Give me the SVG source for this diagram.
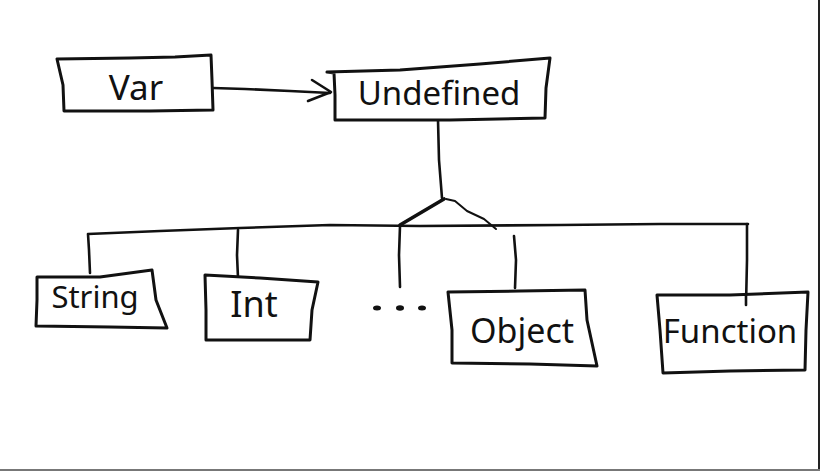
<svg xmlns="http://www.w3.org/2000/svg" width="820" height="471" viewBox="0 0 820 471">
<style>
.box{fill:#fff;stroke:#111;stroke-width:3;stroke-linejoin:round;stroke-linecap:round}
.ln{fill:none;stroke:#111;stroke-width:2.6;stroke-linejoin:round;stroke-linecap:round}
.lbl{font-family:"Noto Sans","DejaVu Sans",sans-serif;font-size:32px;fill:#111;text-anchor:middle}
</style>
<rect x="0" y="0" width="820" height="471" fill="#fff"/>
<line x1="819" y1="0" x2="819" y2="471" stroke="#222" stroke-width="2"/>
<line x1="0" y1="470" x2="820" y2="470" stroke="#777" stroke-width="2"/>
<g id="connectors">
<path class="ln" d="M213,88 L245,89 L290,91 L330,93"/>
<path class="ln" d="M312,80 L331,92 L308,101"/>
<path class="ln" d="M438,120 L439,160 L442,198"/>
<path class="ln" d="M444,199 L400,225" style="stroke-width:3.6"/>
<path class="ln" d="M446,199 L455,201 L467,211 L484,219 L496,229" style="stroke-width:2"/>
<path class="ln" d="M90,273 L89,250 L88,234 L160,231 L240,228 L330,225 L420,226 L560,225 L660,224 L748,224"/>
<path class="ln" d="M238,278 L237,255 L238,230"/>
<path class="ln" d="M400,287 L399,255 L400,226"/>
<path class="ln" d="M515,288 L516,260 L514,236"/>
<path class="ln" d="M746,305 L747,260 L747,224"/>
</g>
<g id="var">
<path class="box" d="M57,59 L130,58 L175,57 L211,55 L212,80 L213,110 L150,111 L64,111 L63,85 Z"/>
<text class="lbl" x="136" y="100" style="font-size:35px">Var</text>
</g>
<g id="undefined">
<path class="box" d="M327,72 L400,70 L480,64 L550,58 L546,88 L545,118 L450,120 L335,120 L335,95 L334,73 Z"/>
<text class="lbl" x="439" y="105" style="font-size:33px">Undefined</text>
</g>
<g id="string">
<path class="box" d="M37,277 L100,277 L152,270 L156,300 L167,328 L110,327 L36,326 L37,300 Z"/>
<text class="lbl" x="95" y="308" style="font-size:31px">String</text>
</g>
<g id="int">
<path class="box" d="M205,275 L260,278 L318,282 L312,310 L310,340 L260,340 L206,340 L206,310 Z"/>
<text class="lbl" x="254" y="317" style="font-size:36px">Int</text>
</g>
<g id="ellipsis">
<ellipse cx="377" cy="308" rx="4" ry="2.5" fill="#111"/>
<ellipse cx="400" cy="308" rx="4" ry="2.7" fill="#111"/>
<ellipse cx="422" cy="308" rx="4" ry="2.5" fill="#111"/>
</g>
<g id="object">
<path class="box" d="M448,292 L520,291 L585,290 L587,320 L597,366 L530,364 L452,363 L452,330 Z"/>
<text class="lbl" x="522" y="343" style="font-size:34px">Object</text>
</g>
<g id="function">
<path class="box" d="M657,295 L730,295 L808,292 L806,330 L805,370 L730,371 L663,373 L660,330 Z"/>
<path class="ln" d="M746,295 L746,305"/>
<text class="lbl" x="730" y="343" style="font-size:33px">Function</text>
</g>
</svg>
